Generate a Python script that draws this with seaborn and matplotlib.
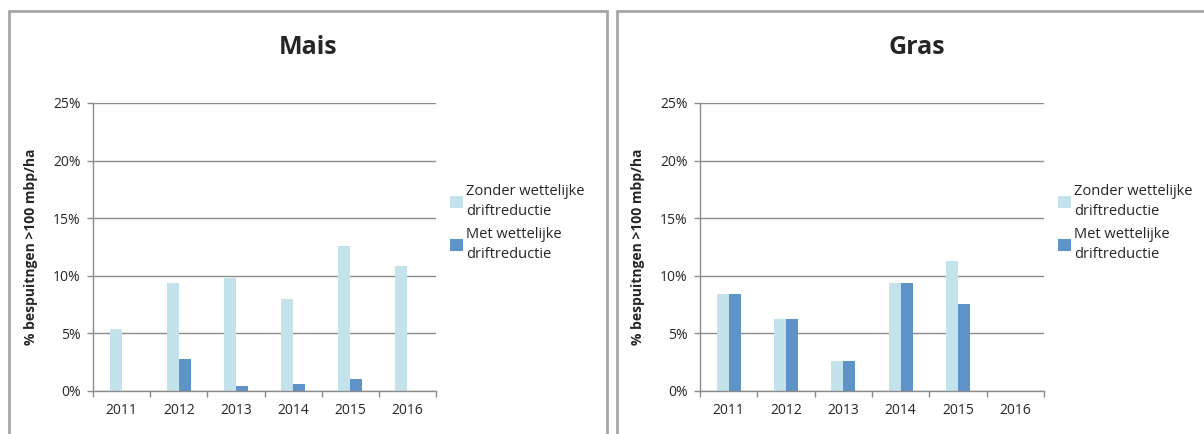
import pandas as pd
import matplotlib
matplotlib.use('Agg')
import matplotlib.pyplot as plt
import seaborn as sns
from matplotlib.ticker import PercentFormatter, FixedLocator
from matplotlib.patches import Rectangle, Patch

# Data
years = ['2011', '2012', '2013', '2014', '2015', '2016']
mais_zonder = [5.35, 9.4, 9.85, 7.95, 12.55, 10.85]
mais_met = [0, 2.78, 0.46, 0.61, 1.04, 0]
gras_zonder = [8.43, 6.23, 2.6, 9.4, 11.3, 0]
gras_met = [8.43, 6.23, 2.6, 9.4, 7.54, 0]
series = ['Zonder wettelijke\ndriftreductie', 'Met wettelijke\ndriftreductie']
colors = ['#c3e2ec', '#5e93c8']

sns.set_style('white')
plt.rcParams['font.family'] = ['Open Sans', 'DejaVu Sans']

W, H = 1204, 434
fig = plt.figure(figsize=(W / 100, H / 100), dpi=100)

def to_long(zonder, met):
    return pd.DataFrame({
        'jaar': years * 2,
        'waarde': zonder + met,
        'reeks': [series[0]] * len(years) + [series[1]] * len(years),
    })

panels = [
    ('Mais', mais_zonder, mais_met, 9, 607, 93, 436),
    ('Gras', gras_zonder, gras_met, 617, 1215, 700, 1044),
]

for title, zonder, met, bx0, bx1, ax0, ax1 in panels:
    # kader rond de grafiek
    fig.patches.append(Rectangle((bx0 / W, -0.1), (bx1 - bx0) / W, 1.1 - 11 / H,
                                 transform=fig.transFigure, fill=False,
                                 edgecolor='#a6a6a6', linewidth=2))
    ax = fig.add_axes([ax0 / W, 1 - 391 / H, (ax1 - ax0) / W, (391 - 103) / H])
    df = to_long(zonder, met)
    sns.barplot(data=df, x='jaar', y='waarde', hue='reeks', hue_order=series,
                palette=colors, saturation=1, width=0.42, linewidth=0, ax=ax,
                legend=False)
    ax.set_ylim(0, 25)
    ax.set_xlim(-0.5, 5.5)
    ax.yaxis.set_major_locator(FixedLocator([0, 5, 10, 15, 20, 25]))
    ax.yaxis.set_major_formatter(PercentFormatter(decimals=0))
    ax.grid(axis='y', color='#8c8c8c', linewidth=1)
    ax.set_axisbelow(True)
    for s in ['top', 'right']:
        ax.spines[s].set_visible(False)
    for s in ['left', 'bottom']:
        ax.spines[s].set_color('#8c8c8c')
        ax.spines[s].set_linewidth(1)
    ax.tick_params(axis='y', which='major', length=4, width=1, color='#8c8c8c',
                   labelsize=10, pad=5, left=True)
    ax.tick_params(axis='x', which='major', length=0, labelsize=10, pad=9)
    ax.xaxis.set_minor_locator(FixedLocator([i - 0.5 for i in range(7)]))
    ax.tick_params(axis='x', which='minor', length=4, width=1, color='#8c8c8c', bottom=True)
    ax.set_xlabel('')
    ax.set_ylabel('% bespuitngen >100 mbp/ha', fontsize=10, fontweight='bold', labelpad=11)
    fig.text(((bx0 + bx1 if bx1 < W else bx0 + 1217) / 2) / W, 1 - 48 / H, title,
             fontsize=18, fontweight='bold', ha='center', va='center')
    handles = [Patch(facecolor=c, edgecolor='none') for c in colors]
    leg = fig.legend(handles, series, loc='upper left',
                     bbox_to_anchor=((ax1 + 8) / W, 1 - 178 / H),
                     frameon=False, fontsize=10.5, handlelength=0.9, handleheight=0.9,
                     handletextpad=0.2, labelspacing=0.55, borderaxespad=0)
    for t in leg.get_texts():
        t.set_linespacing(1.45)

fig.savefig('out.png', dpi=100)
